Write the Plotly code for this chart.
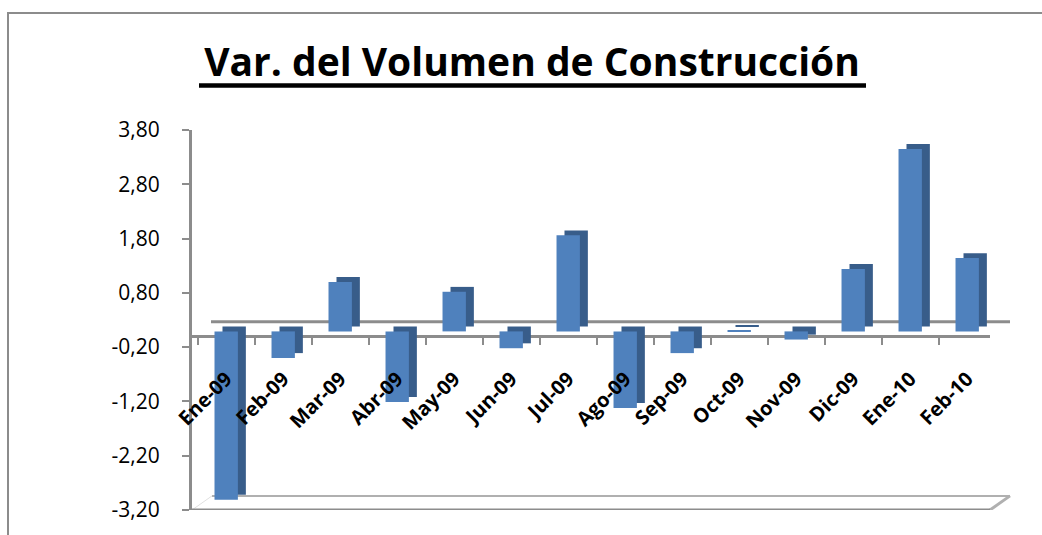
import plotly.graph_objects as go

# ---- data ----
categories = ["Ene-09", "Feb-09", "Mar-09", "Abr-09", "May-09", "Jun-09", "Jul-09",
              "Ago-09", "Sep-09", "Oct-09", "Nov-09", "Dic-09", "Ene-10", "Feb-10"]
values = [-3.10, -0.49, 0.91, -1.30, 0.73, -0.31, 1.77,
          -1.41, -0.40, 0.02, -0.15, 1.15, 3.36, 1.35]
tick_vals = [-3.2, -2.2, -1.2, -0.2, 0.8, 1.8, 2.8, 3.8]
tick_text = ["-3,20", "-2,20", "-1,20", "-0,20", "0,80", "1,80", "2,80", "3,80"]
title_text = "Var. del Volumen de Construcción"

# ---- geometry / style ----
W, H = 1042, 535
ML, MR, MT, MB = 192, 52, 130, 22
PW = W - ML - MR
PH = H - MT - MB
YMIN, YMAX = -3.2, 3.8
XMIN, XMAX = -0.6, 13.4
depth_x = 0.14      # 3D side offset (category units)
depth_y = 0.09      # 3D top offset (value units)
bar_w = 0.41
front_col = "#4f81bd"
side_col = "#385d8a"
axis_col = "#8c8c8c"
FONT = "Open Sans"
zero_pos = (0 - YMIN) / (YMAX - YMIN)

def px_x(p):
    return (p - ML) / PW

def px_y(p):
    return (H - MB - p) / PH

fig = go.Figure()
# side / top faces (behind)
fig.add_trace(go.Bar(
    x=categories, y=values, base=2 * depth_y,
    offset=-bar_w / 2 + depth_x, width=bar_w,
    marker=dict(color=side_col, line=dict(width=0)),
    hoverinfo="skip", showlegend=False))
# front faces
fig.add_trace(go.Bar(
    x=categories, y=values, base=depth_y,
    offset=-bar_w / 2, width=bar_w,
    marker=dict(color=front_col, line=dict(width=0)),
    showlegend=False))

shapes = [
    # outer chart border
    dict(type="rect", xref="paper", yref="paper",
         x0=px_x(8), x1=px_x(W + 20), y0=px_y(H + 20), y1=px_y(12),
         line=dict(color=axis_col, width=2), fillcolor="rgba(0,0,0,0)", layer="below"),
    # back floor line at zero
    dict(type="line", xref="paper", yref="y",
         x0=px_x(211), x1=px_x(1010), y0=3 * depth_y, y1=3 * depth_y,
         line=dict(color=axis_col, width=3), layer="below"),
    # bottom floor: back line
    dict(type="line", xref="paper", yref="y",
         x0=px_x(212), x1=px_x(1010), y0=YMIN + 0.26, y1=YMIN + 0.26,
         line=dict(color="#b0b0b0", width=2), layer="below"),
    # bottom floor: right diagonal
    dict(type="line", xref="paper", yref="y",
         x0=1.0, x1=px_x(1010), y0=YMIN, y1=YMIN + 0.26,
         line=dict(color="#b0b0b0", width=3), layer="below"),
    # bottom floor: left diagonal
    dict(type="line", xref="paper", yref="y",
         x0=0.0, x1=px_x(212), y0=YMIN, y1=YMIN + 0.26,
         line=dict(color="#e0e0e0", width=1), layer="below"),
    # bottom floor: front line
    dict(type="line", xref="paper", yref="y",
         x0=0.0, x1=1.0, y0=YMIN, y1=YMIN,
         line=dict(color=axis_col, width=3), layer="below"),
    # title underline
    dict(type="rect", xref="paper", yref="paper",
         x0=px_x(199), x1=px_x(866), y0=px_y(87.5), y1=px_y(83),
         line=dict(width=0), fillcolor="black"),
]

fig.update_layout(
    width=W, height=H,
    margin=dict(l=ML, r=MR, t=MT, b=MB, pad=0),
    paper_bgcolor="white", plot_bgcolor="rgba(0,0,0,0)",
    barmode="overlay",
    showlegend=False,
    shapes=shapes,
    font=dict(family=FONT, color="black"),
    title=dict(text="<b>" + title_text + "</b>",
               font=dict(family=FONT, size=39, color="black"),
               xref="paper", x=px_x(532), xanchor="center",
               yref="container", y=1 - 62 / H, yanchor="middle"),
    # main category axis: the front floor line with its ticks (behind bars)
    xaxis=dict(
        type="category", range=[XMIN, XMAX],
        anchor="free", position=zero_pos,
        showline=True, linecolor=axis_col, linewidth=3,
        ticks="outside", tickson="boundaries", ticklen=7, tickwidth=2, tickcolor=axis_col,
        showticklabels=False,
        showgrid=False, zeroline=False, layer="below traces",
    ),
    # label axis drawn above the bars
    xaxis2=dict(
        overlaying="x", range=[XMIN, XMAX],
        anchor="free", position=zero_pos, side="bottom",
        tickmode="array", tickvals=list(range(len(categories))), ticktext=categories,
        ticks="", showline=False, showgrid=False, zeroline=False,
        tickangle=-45, ticklabelstandoff=26,
        tickfont=dict(family=FONT, size=20, color="black", weight="bold"),
        layer="above traces",
    ),
    yaxis=dict(
        range=[YMIN, YMAX],
        tickvals=tick_vals, ticktext=tick_text,
        showline=True, linecolor=axis_col, linewidth=3,
        ticks="outside", ticklen=7, tickwidth=2, tickcolor=axis_col,
        ticklabelstandoff=18,
        tickfont=dict(family=FONT, size=21, color="black"),
        showgrid=False, zeroline=False,
    ),
)
# an empty trace so the label axis is drawn
fig.add_trace(go.Scatter(x=[], y=[], xaxis="x2", yaxis="y", showlegend=False, hoverinfo="skip"))

fig.write_html("out.html", config={"displayModeBar": False},
               post_script="document.body.style.margin='0';")
